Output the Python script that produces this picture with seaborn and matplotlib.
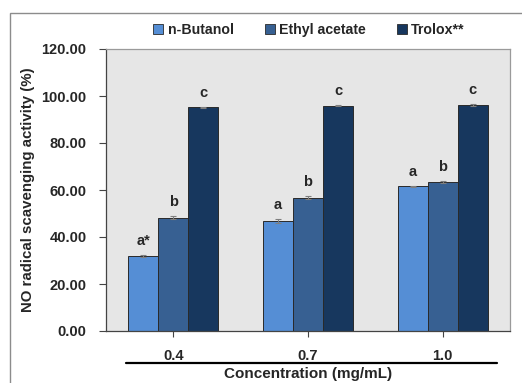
import numpy as np
import pandas as pd
import matplotlib
matplotlib.use("Agg")
import matplotlib.pyplot as plt
import seaborn as sns
from matplotlib.patches import Rectangle
from matplotlib.lines import Line2D

concentrations = ["0.4", "0.7", "1.0"]
series_names = ["n-Butanol", "Ethyl acetate", "Trolox**"]
butanol = [31.8, 46.8, 61.5]
ethyl = [48.2, 56.8, 63.5]
trolox = [95.3, 95.8, 96.2]
butanol_err = [0.4, 0.7, 0.3]
ethyl_err = [0.7, 0.7, 0.5]
trolox_err = [0.2, 0.2, 0.3]
butanol_letters = ["a*", "a", "a"]
ethyl_letters = ["b", "b", "b"]
trolox_letters = ["c", "c", "c"]
y_ticks = [0, 20, 40, 60, 80, 100, 120]

values = [butanol, ethyl, trolox]
errs = [butanol_err, ethyl_err, trolox_err]
letters = [butanol_letters, ethyl_letters, trolox_letters]
colors = ["#558ED5", "#376092", "#17375E"]

df = pd.DataFrame({
    "conc": np.repeat([concentrations], 3, axis=0).ravel(),
    "series": np.repeat(series_names, 3),
    "value": np.concatenate(values),
})

sns.set_theme(style="white")
plt.rcParams['font.family'] = ['Liberation Sans', 'DejaVu Sans']
plt.rcParams['font.weight'] = 'bold'

fig = plt.figure(figsize=(5.22, 3.83), dpi=100)
ax = fig.add_axes([106/522, 1 - 331/383, (510-106)/522, (331-49)/383])

sns.barplot(data=df, x="conc", y="value", hue="series", order=concentrations,
            hue_order=series_names, palette=colors, width=0.667, gap=0,
            edgecolor="#2a2a2a", linewidth=0.7, errorbar=None, ax=ax, legend=False,
            saturation=1)

for cont, e, lab in zip(ax.containers, errs, letters):
    for bar, ee, tt in zip(cont, e, lab):
        xc = bar.get_x() + bar.get_width() / 2
        h = bar.get_height()
        ax.errorbar(xc, h, yerr=ee, fmt="none", ecolor="#7f7f7f", elinewidth=0.8,
                    capsize=2.5, capthick=0.8)
        ax.annotate(tt, (xc, h + ee), xytext=(0, 5), textcoords="offset points",
                    ha="center", va="bottom", fontsize=10.5, fontweight="bold")

ax.set_facecolor("#e6e6e6")
ax.set_ylim(0, 120)
ax.set_yticks(y_ticks)
ax.set_yticklabels([f"{v:.2f}" for v in y_ticks], fontsize=10.5, fontweight="bold")
ax.set_xticks(range(len(concentrations)))
ax.set_xticklabels(concentrations, fontsize=10.5, fontweight="bold")
ax.set_xlim(-0.5, 2.5)
ax.tick_params(axis="y", direction="out", length=5, width=0.8, color="#444444", left=True, pad=9)
ax.tick_params(axis="x", direction="out", length=4, width=0.8, color="#444444", bottom=True, pad=9)
for s in ["left", "bottom"]:
    ax.spines[s].set_color("#444444")
    ax.spines[s].set_linewidth(0.9)
for s in ["top", "right"]:
    ax.spines[s].set_color("#9a9a9a")
    ax.spines[s].set_linewidth(0.9)

ax.set_ylabel("NO radical scavenging activity (%)", fontsize=10.8, fontweight="bold")
ax.yaxis.set_label_coords(-(106-35)/404, 0.5)
ax.set_xlabel("Concentration (mg/mL)", fontsize=11, fontweight="bold", va="center")
ax.xaxis.set_label_coords(0.5, -(374-331)/282)

# black line under category labels
line = Line2D([(126-106)/404, (497-106)/404], [-(363-331)/282]*2, transform=ax.transAxes,
              color="black", lw=1.6, clip_on=False)
ax.add_line(line)

# outer frame
fig.patches.append(Rectangle((10/522, -0.1), 1.2, 1 - 13/383 + 0.1, transform=fig.transFigure,
                             fill=False, edgecolor="#8c8c8c", lw=1.0, zorder=0))

handles = [Rectangle((0, 0), 1, 1, facecolor=c, edgecolor="#2a2a2a", lw=0.6) for c in colors]
fig.legend(handles, series_names, loc="center", bbox_to_anchor=(309/522, 1 - 30/383), ncol=3,
           frameon=False, handlelength=0.7, handleheight=0.7, handletextpad=0.3,
           columnspacing=2.2, prop={"family": ["Liberation Sans"], "weight": "bold", "size": 10.2})

fig.savefig("out.png", dpi=100)
